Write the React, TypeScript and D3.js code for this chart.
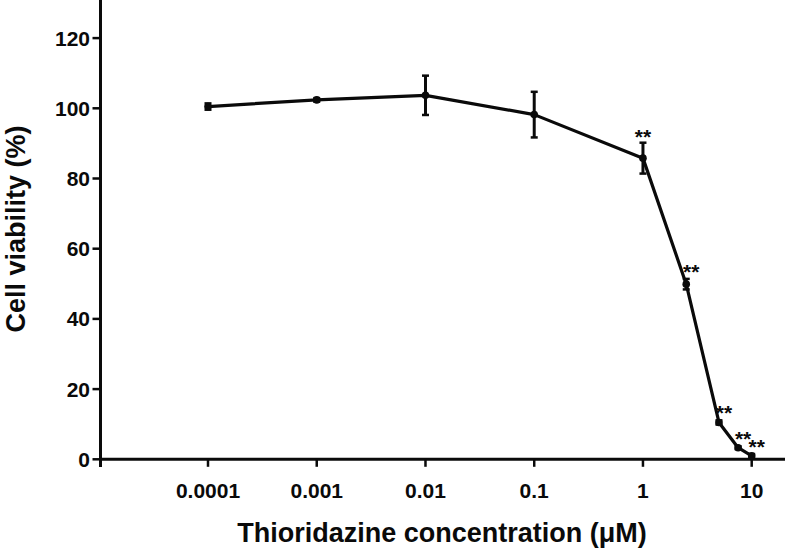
import React from "react";
import * as d3 from "d3";

const concentrations = [0.0001, 0.001, 0.01, 0.1, 1, 2.5, 5, 7.5, 10];
const viability = [100.5, 102.4, 103.7, 98.2, 85.8, 49.9, 10.5, 3.3, 1.0];
const sdValues = [0.9, 0.5, 5.6, 6.5, 4.4, 1.5, 0.6, 0.4, 0.5];
const significance = ["", "", "", "", "**", "**", "**", "**", "**"];
const xTickValues = [0.0001, 0.001, 0.01, 0.1, 1, 10];
const xTickLabels = ["0.0001", "0.001", "0.01", "0.1", "1", "10"];
const yTickValues = [0, 20, 40, 60, 80, 100, 120];

const W = 788;
const H = 551;
const FONT = "'Liberation Sans', Arial, Helvetica, sans-serif";

export default function App() {
  const x = d3.scaleLog().domain([0.0001, 10]).range([208, 751.7]);
  const y = d3.scaleLinear().domain([0, 130]).range([459.3, 3]);
  const axisX = 100.5;
  const axisY = y(0);

  const pts = concentrations.map((c, i) => ({
    c,
    v: viability[i],
    sd: sdValues[i],
    sig: significance[i],
  }));

  const line = d3
    .line<{ c: number; v: number }>()
    .x((d) => x(d.c))
    .y((d) => y(d.v));

  const ink = "#0a0a0a";

  return (
    <svg
      width={W}
      height={H}
      viewBox={`0 0 ${W} ${H}`}
      style={{ position: "absolute", left: 0, top: 0, background: "#fff" }}
      fontFamily={FONT}
      fontWeight="bold"
    >
      <rect x={0} y={0} width={W} height={H} fill="#fff" />
      {/* Y axis */}
      <line x1={axisX} x2={axisX} y1={0} y2={467} stroke={ink} strokeWidth={3} />
      {yTickValues.map((t) => (
        <g key={"y" + t}>
          <line x1={axisX - 8} x2={axisX} y1={y(t)} y2={y(t)} stroke={ink} strokeWidth={2.5} />
          <text x={90} y={y(t)} dy="0.36em" textAnchor="end" fontSize={21} fill={ink}>
            {t}
          </text>
        </g>
      ))}
      {/* X axis */}
      <line x1={axisX - 1.5} x2={785} y1={axisY} y2={axisY} stroke={ink} strokeWidth={3} />
      {xTickValues.map((t, i) => (
        <g key={"x" + t}>
          <line x1={x(t)} x2={x(t)} y1={axisY} y2={axisY + 7.5} stroke={ink} strokeWidth={2.5} />
          <text x={x(t)} y={497.5} textAnchor="middle" fontSize={21} fill={ink}>
            {xTickLabels[i]}
          </text>
        </g>
      ))}
      {/* Titles */}
      <text x={442} y={542} textAnchor="middle" fontSize={27} fill={ink}>
        Thioridazine concentration (μM)
      </text>
      <text
        transform={`translate(25, 229) rotate(-90)`}
        textAnchor="middle"
        fontSize={27}
        fill={ink}
      >
        Cell viability (%)
      </text>
      {/* Data line */}
      <path d={line(pts) || ""} fill="none" stroke={ink} strokeWidth={3.2} strokeLinejoin="round" />
      {/* Error bars */}
      {pts.map((d, i) => (
        <g key={"e" + i}>
          <line x1={x(d.c)} x2={x(d.c)} y1={y(d.v - d.sd)} y2={y(d.v + d.sd)} stroke={ink} strokeWidth={3} />
          <line x1={x(d.c) - 3.5} x2={x(d.c) + 3.5} y1={y(d.v + d.sd)} y2={y(d.v + d.sd)} stroke={ink} strokeWidth={2.5} />
          <line x1={x(d.c) - 3.5} x2={x(d.c) + 3.5} y1={y(d.v - d.sd)} y2={y(d.v - d.sd)} stroke={ink} strokeWidth={2.5} />
          <circle cx={x(d.c)} cy={y(d.v)} r={3.8} fill={ink} />
        </g>
      ))}
      {/* Significance markers */}
      {pts.map((d, i) =>
        d.sig ? (
          <text
            key={"s" + i}
            x={x(d.c) + (i === 4 ? 0 : 5)}
            y={y(d.v + d.sd) + (i === 4 ? 1 : 0)}
            textAnchor="middle"
            fontSize={21}
            fill={ink}
          >
            {d.sig}
          </text>
        ) : null
      )}
    </svg>
  );
}
